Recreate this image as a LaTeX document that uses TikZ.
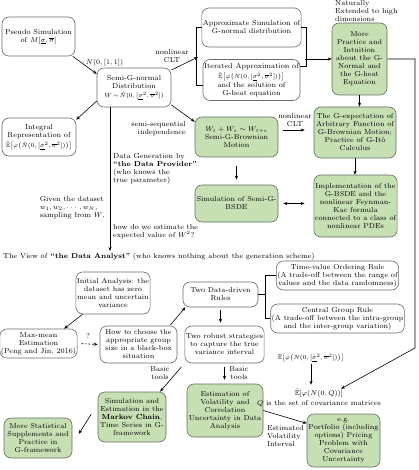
\documentclass[tikz,border=0pt]{standalone}
\usepackage{amsmath,amssymb}
\usetikzlibrary{arrows.meta,calc}
\definecolor{gfill}{RGB}{198,224,180}
\definecolor{gdraw}{RGB}{100,110,95}
\definecolor{wdraw}{RGB}{105,105,105}
\newcommand{\smm}[1]{{\fontsize{6.3}{8}\selectfont #1}}
\begin{document}
\begin{tikzpicture}[x=1pt,y=-1pt,
  every node/.style={font=\fontsize{7.2}{8}\selectfont, inner sep=1pt},
  sz/.style 2 args={minimum width=#1,minimum height=#2},
  wbox/.style={draw=wdraw, line width=0.6pt, rounded corners=7pt, align=center, fill=white},
  gbox/.style={draw=gdraw, line width=0.6pt, rounded corners=7pt, align=center, fill=gfill},
  lab/.style={align=center},
  arr/.style={-{Stealth[length=4pt,width=3.2pt]}, line width=0.6pt},
  darr/.style={{Stealth[length=4pt,width=3.2pt]}-{Stealth[length=4pt,width=3.2pt]}, line width=0.6pt},
  ln/.style={line width=0.6pt}]
\useasboundingbox (0,0) rectangle (418,470);

% ---------- upper part ----------
\node[wbox,sz={73}{39}] (pseudo) at (38.5,36.5) {Pseudo Simulation\\of $M[\underline{\sigma},\overline{\sigma}]$};
\node[wbox,sz={74}{39}] (semig) at (134,87.5) {Semi-G-normal\\Distribution\\[1pt]\smm{$W\!\sim\!\hat{N}(0,[\underline{\sigma}^2,\overline{\sigma}^2])$}};
\node[wbox,sz={74}{38}] (integral) at (39,137) {Integral\\Representation of\\[2.5pt]\smm{$\hat{\mathbb{E}}\bigl[\varphi\bigl(\hat{N}(0,[\underline{\sigma}^2,\overline{\sigma}^2])\bigr)\bigr]$}};
\node[wbox,sz={97}{41}] (iter) at (251.5,80) {Iterated Approximation of\\[2.5pt]\smm{$\hat{\mathbb{E}}\bigl[\varphi\bigl(N(0,[\underline{\sigma}^2,\overline{\sigma}^2])\bigr)\bigr]$}\\[1pt]and the solution of\\G-heat equation};
\node[wbox,sz={97}{39}] (approx) at (251.5,27.5) {Approximate Simulation of\\G-normal distribution};
\node[gbox,sz={55}{72}] (more) at (359.5,59) {More\\Practice and\\Intuition\\about the G-\\Normal and\\the G-heat\\Equation};
\node[gbox,sz={83}{40}] (brown) at (236.5,137) {$W_t+W_s\sim W_{t+s}$\\Semi-G-Brownian\\Motion};
\node[gbox,sz={82}{51}] (gexp) at (355,132.5) {The G-expectation of\\Arbitrary Function of\\G-Brownian Motion;\\Practice of G-It\^o\\Calculus};
\node[gbox,sz={83}{62}] (impl) at (355.5,206) {Implementation of the\\G-BSDE and the\\nonlinear Feynman-\\Kac formula\\connected to a class of\\nonlinear PDEs};
\node[gbox,sz={83}{37}] (simbsde) at (236.5,203.5) {Simulation of Semi-G-\\BSDE};

% ---------- lower part ----------
\node[wbox,sz={72}{42}] (init) at (113,293) {Initial Analysis: the\\dataset has zero\\mean and uncertain\\variance};
\node[wbox,sz={73}{29}] (maxmean) at (38.5,343.5) {Max-mean\\Estimation\\(Peng and Jin, 2016)};
\node[wbox,sz={77}{37}] (howto) at (138.5,344.5) {How to choose the\\appropriate group\\size in a black-box\\situation};
\node[wbox,sz={75}{25}] (twodd) at (220.5,294.5) {Two Data-driven\\Rules};
\node[wbox,sz={121}{29}] (timev) at (337.5,275.5) {Time-value Ordering Rule\\(A trade-off between the range of\\values and the data randomness)};
\node[wbox,sz={121}{29}] (central) at (337.5,318.5) {Central Group Rule\\(A trade-off between the intra-group\\and the inter-group variation)};
\node[wbox,sz={75}{37}] (robust) at (224.5,344.5) {Two robust strategies\\to capture the true\\variance interval};
\node[gbox,sz={76}{53}] (estim) at (225,410.5) {Estimation of\\Volatility and\\Correlation\\Uncertainty in Data\\Analysis};
\node[gbox,sz={68}{50}] (markov) at (132,417) {Simulation and\\Estimation in the\\\textbf{Markov Chain},\\Time Series in G-\\framework};
\node[gbox,sz={68}{40}] (morestat) at (38,438) {More Statistical\\Supplements and\\Practice in\\G-framework};
\node[gbox,sz={73}{53}] (portf) at (343.5,440.5) {e.g.\\Portfolio (including\\options) Pricing\\Problem with\\Covariance\\Uncertainty};

% ---------- labels ----------
\node[anchor=west] (lnorm) at (81,63) {$\cdot\,N(0,[1,1])$};
\node[lab] (lclt1) at (172,56) {nonlinear\\CLT};
\node[anchor=west,align=left] (lnat) at (334,11) {Naturally\\Extended to high\\dimensions};
\node[anchor=east,align=right] (lsemi) at (187,129) {semi-sequential\\independence};
\node[lab] (lclt2) at (295,120) {nonlinear\\CLT};
\node[anchor=west,align=left] (lgen) at (112,168.5) {Data Generation by\\\textbf{\textquotedblleft the Data Provider\textquotedblright}\\(who knows the\\true parameter)};
\node[anchor=east,align=left] (lgiven) at (106,208) {Given the dataset\\$w_1, w_2,\cdots,w_N$,\\sampling from $W$,};
\node[anchor=west,align=left] (lhow) at (112,232) {how do we estimate the\\expected value of $W^2$?};
\node[anchor=west] (view) at (2,257) {The View of \textbf{\textquotedblleft the Data Analyst\textquotedblright} (who knows nothing about the generation scheme)};
\node (lq) at (88,336) {?};
\node[lab] (lbt1) at (160,373) {Basic\\tools};
\node[lab] (lbt2) at (239,373) {Basic\\tools};
\node (etop) at (311,358) {\smm{$\hat{\mathbb{E}}\bigl[\varphi\bigl(N(0,[\underline{\sigma}^2,\overline{\sigma}^2])\bigr)\bigr]$}};
\node[align=center] (eq) at (319,398) {$\hat{\mathbb{E}}[\varphi(N(0,Q))]$\\[2pt]$Q$ is the set of covariance matrices};
\node[anchor=west,align=left] (lest) at (266,436) {Estimated\\Volatility\\Interval};

% ---------- coordinates ----------
\coordinate (lb) at (198,57);
\coordinate (rb) at (305,59);
\coordinate (viewtop) at (110,251);
\coordinate (rc) at (415,348);
\coordinate (lbk) at (266,294.5);

% ---------- connectors ----------
\draw[arr] (pseudo.-30) -- (semig.160);
\draw[arr] (semig.-160) -- (integral.25);
\draw[ln] (approx.west) -- ++(-5,0) |- ([yshift=-5pt]iter.west);
\draw[arr] (semig.25) -- (lb);
\draw[ln] (approx.east) -- ++(5,0) |- ([yshift=14pt]iter.east);
\draw[arr] (rb) -- (more.west);
\draw[arr] (semig.-25) -- (brown.160);
\draw[arr] (semig.south west -| viewtop) -- (viewtop);
\draw[arr] ([xshift=5pt,yshift=7pt]brown.east) -- ([xshift=-9pt,yshift=2.5pt]gexp.west);
\draw[arr] (more.south) -- (more.south |- gexp.north);
\draw[arr] (gexp.south) -- (gexp.south |- impl.north);
\draw[arr,shorten <=9pt,shorten >=5pt] (brown.south) -- (simbsde.north);
\draw[darr] ([xshift=5pt]simbsde.east) -- ([xshift=-9pt,yshift=2.5pt]impl.west);
\draw[arr] (more.east) -| (rc) -- ([xshift=22pt,yshift=-1pt]eq.north);
\draw[arr,shorten <=1pt,shorten >=3pt] (etop.south) -- (etop.south |- eq.north);
\draw[arr] (estim.east) -- (portf.155);

\draw[arr] (init.-145) -- (maxmean.30);
\draw[arr,dash pattern=on 2pt off 1.5pt,shorten <=4pt,shorten >=2pt] (maxmean.east) -- (howto.west);
\draw[arr,shorten <=1pt] (howto.31) -- (twodd.-160);
\draw[ln] (timev.west) -- ++(-11,0) |- (central.west);
\draw[ln] (twodd.east) -- (lbk);
\draw[arr,shorten <=3pt,shorten >=3pt] (twodd.south) -- (twodd.south |- robust.north);
\draw[arr,shorten <=5pt] (robust.south west) -- (markov.42);
\draw[arr,shorten <=4pt,shorten >=4pt] (robust.south) -- (robust.south |- estim.north);
\draw[arr,shorten <=12pt,shorten >=12pt] ([yshift=13pt]markov.west) -- ([yshift=-6pt]morestat.east);
\end{tikzpicture}
\end{document}
